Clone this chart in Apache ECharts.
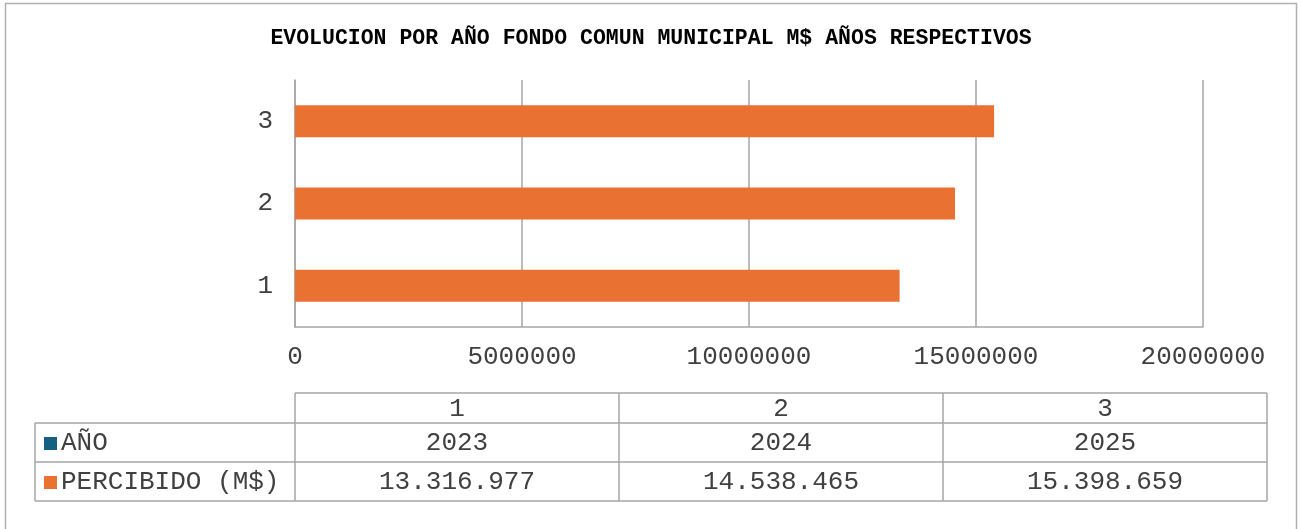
<!DOCTYPE html>
<html>
<head>
<meta charset="utf-8">
<script src="https://cdn.jsdelivr.net/npm/echarts@6/dist/echarts.min.js"></script>
<style>
html,body{margin:0;padding:0;background:#fff;}
#c{width:1302px;height:529px;}
</style>
</head>
<body>
<div id="c"></div>
<script>
const titleText = 'EVOLUCION POR AÑO FONDO COMUN MUNICIPAL M$ AÑOS RESPECTIVOS';
const categories = ['1', '2', '3'];
const seriesNames = ['AÑO', 'PERCIBIDO (M$)'];
const anoValues = [2023, 2024, 2025];
const percibidoValues = [13316977, 14538465, 15398659];
const seriesColors = ['#156082', '#E97132'];
const xTicks = [0, 5000000, 10000000, 15000000, 20000000];

const FONT = "'Courier New', 'Liberation Mono', monospace";
const TXT = '#404040';
const LINE = '#a6a6a6';

function fmtDots(v) {
  return String(v).replace(/\B(?=(\d{3})+(?!\d))/g, '.');
}

const chart = echarts.init(document.getElementById('c'), null, {renderer: 'canvas'});

// Table geometry
const tblLeft = 35, colStart = 295, colW = 324, tblRight = colStart + colW * categories.length;
const hdrTop = 393, rowTop = [423, 462], rowBot = 501;
const rowsData = [anoValues.map(String), percibidoValues.map(fmtDots)];

const g = [];
// outer border
g.push({type: 'rect', shape: {x: 5.5, y: 3.5, width: 1291, height: 530},
  style: {fill: 'none', stroke: '#b0b0b0', lineWidth: 1.5}, silent: true});
// table lines
function hline(x1, x2, y) {
  g.push({type: 'line', shape: {x1: x1, y1: y, x2: x2, y2: y}, style: {stroke: LINE, lineWidth: 1.5}, silent: true});
}
function vline(x, y1, y2) {
  g.push({type: 'line', shape: {x1: x, y1: y1, x2: x, y2: y2}, style: {stroke: LINE, lineWidth: 1.5}, silent: true});
}
hline(colStart, tblRight, hdrTop);
hline(tblLeft, tblRight, rowTop[0]);
hline(tblLeft, tblRight, rowTop[1]);
hline(tblLeft, tblRight, rowBot);
vline(tblLeft, rowTop[0], rowBot);
for (let i = 0; i <= categories.length; i++) {
  vline(colStart + colW * i, hdrTop, rowBot);
}
// header labels
categories.forEach((c, i) => {
  g.push({type: 'text', x: colStart + colW * i + colW / 2, y: (hdrTop + rowTop[0]) / 2 + 1,
    style: {text: c, fill: TXT, font: '26px ' + FONT, align: 'center', verticalAlign: 'middle'}, silent: true});
});
// rows
const rowBounds = [[rowTop[0], rowTop[1]], [rowTop[1], rowBot]];
rowsData.forEach((vals, r) => {
  const cy = (rowBounds[r][0] + rowBounds[r][1]) / 2 + 1;
  g.push({type: 'rect', shape: {x: 44, y: cy - 6.5, width: 13, height: 13}, style: {fill: seriesColors[r]}, silent: true});
  g.push({type: 'text', x: 61, y: cy, style: {text: seriesNames[r], fill: TXT, font: '26px ' + FONT, align: 'left', verticalAlign: 'middle'}, silent: true});
  vals.forEach((v, i) => {
    g.push({type: 'text', x: colStart + colW * i + colW / 2, y: cy,
      style: {text: v, fill: TXT, font: '26px ' + FONT, align: 'center', verticalAlign: 'middle'}, silent: true});
  });
});

chart.setOption({
  animation: false,
  backgroundColor: '#fff',
  title: {
    text: titleText, left: 'center', top: 23,
    textStyle: {fontFamily: FONT, fontWeight: 'bold', fontSize: 21.5, color: '#000'}
  },
  grid: {left: 295, right: 99, top: 80, bottom: 202, containLabel: false},
  xAxis: {
    type: 'value', min: xTicks[0], max: xTicks[xTicks.length - 1], interval: xTicks[1] - xTicks[0],
    axisLine: {show: true, lineStyle: {color: LINE, width: 1.5}},
    axisTick: {show: false},
    splitLine: {show: true, lineStyle: {color: LINE, width: 1.5}},
    axisLabel: {fontFamily: FONT, fontSize: 26, color: TXT, margin: 17,
      formatter: v => String(v), showMinLabel: true, showMaxLabel: true}
  },
  yAxis: {
    type: 'category', data: categories,
    axisLine: {show: true, lineStyle: {color: LINE, width: 1.5}},
    axisTick: {show: false},
    axisLabel: {fontFamily: FONT, fontSize: 26, color: TXT, margin: 22}
  },
  series: [
    {name: seriesNames[0], type: 'bar', data: anoValues, barWidth: 32, barGap: '-100%',
      itemStyle: {color: seriesColors[0]}},
    {name: seriesNames[1], type: 'bar', data: percibidoValues, barWidth: 32,
      itemStyle: {color: seriesColors[1]}}
  ],
  graphic: g
});
</script>
</body>
</html>
